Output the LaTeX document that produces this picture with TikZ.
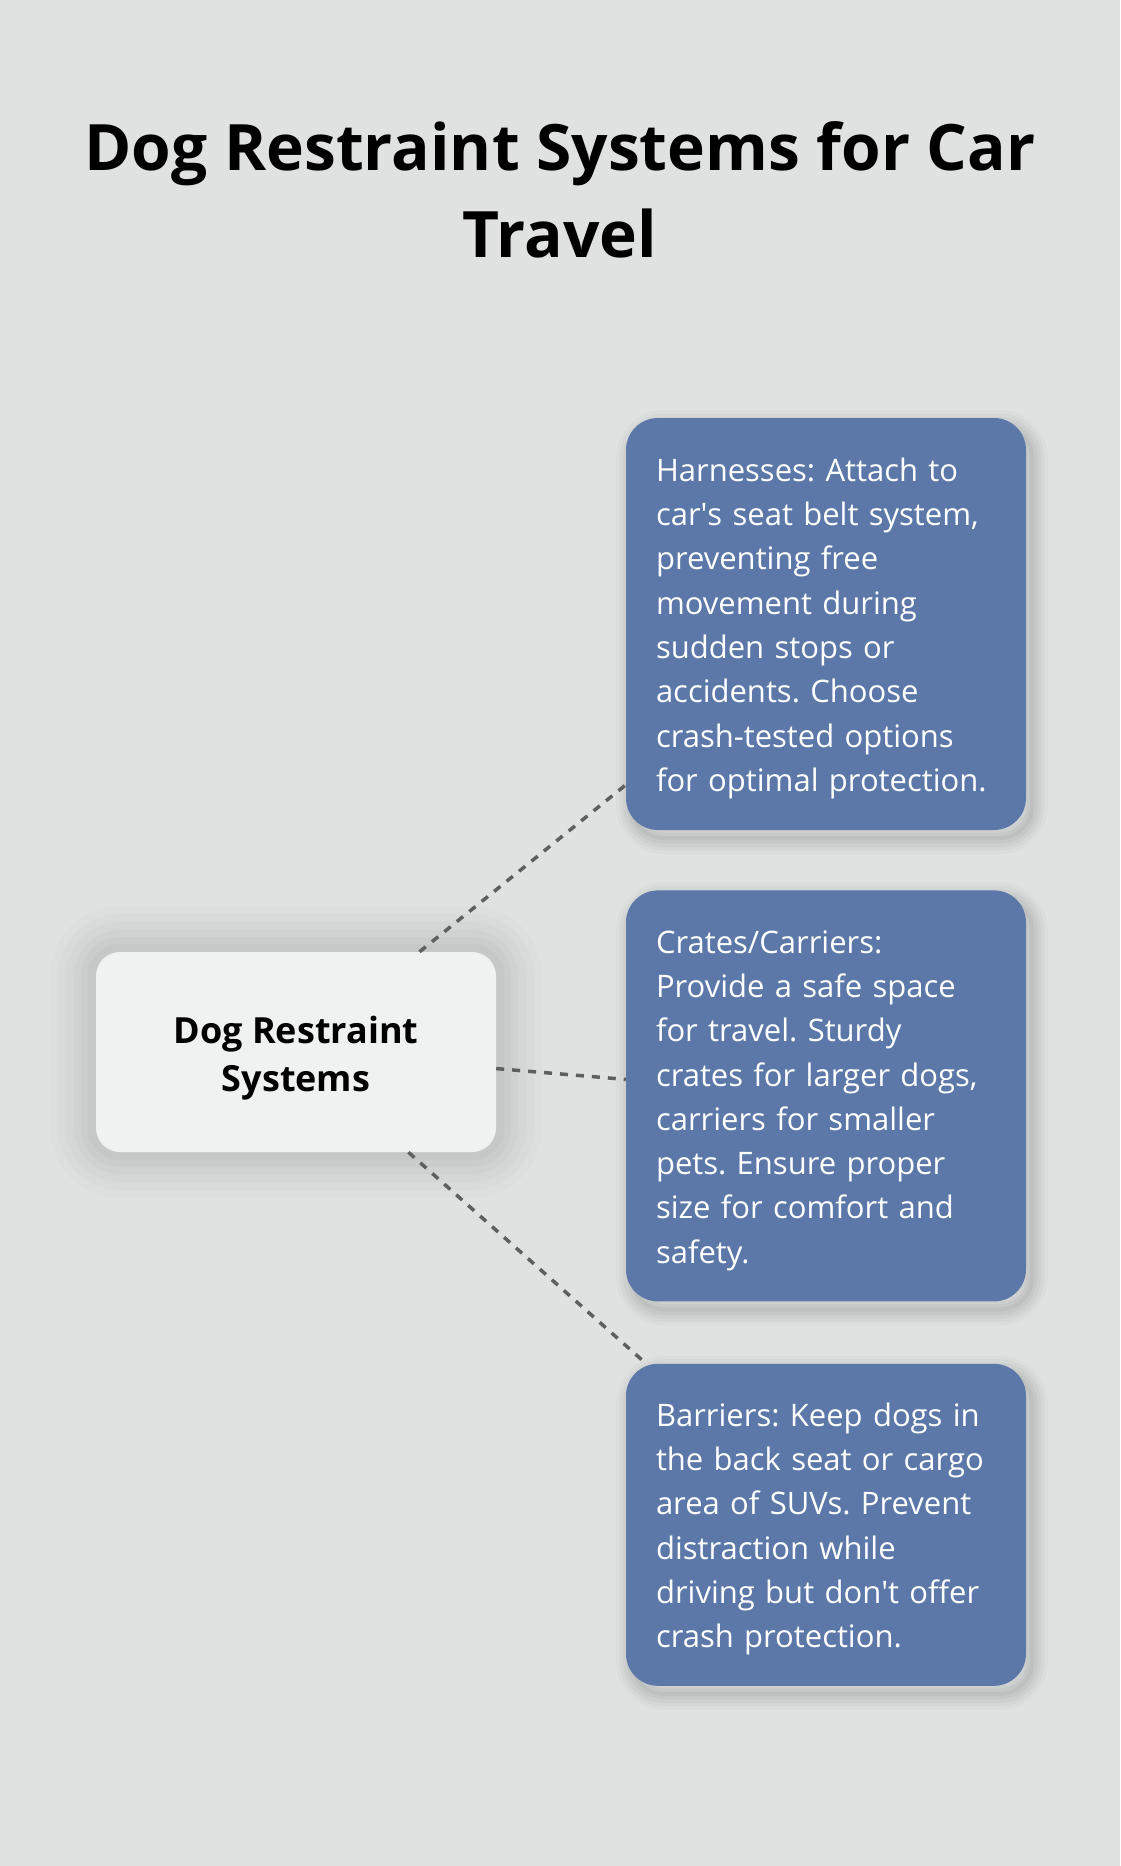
\documentclass[tikz,border=0pt]{standalone}
\usepackage{fontspec}
\setmainfont{Open Sans}
\usepackage{tikz}
\usetikzlibrary{positioning}
\frenchspacing

\definecolor{bgcol}{HTML}{DFE2E1}
\definecolor{topiccol}{HTML}{5B78A8}
\definecolor{hubcol}{HTML}{F0F2F1}
\definecolor{linkcol}{HTML}{5F5F5F}

\tikzset{
    ring/.style args={#1/#2}{preaction={draw=black, line width=#1, draw opacity=#2}},
    dropring/.style args={#1/#2}{preaction={transform canvas={shift={(6pt,-8pt)}},
        draw=black, line width=#1, draw opacity=#2}},
    hubbox/.style={rounded corners=24pt, fill=hubcol, minimum width=400pt,
        minimum height=200pt, align=center, text=black,
        font=\fontsize{36pt}{48pt}\selectfont\bfseries,
        ring=92pt/0.012, ring=76pt/0.014, ring=60pt/0.016, ring=44pt/0.018,
        ring=30pt/0.02, ring=16pt/0.022},
    topicbox/.style={rounded corners=32pt, fill=topiccol, text=white,
        text width=340pt, inner xsep=30pt, align=left,
        font=\fontsize{31pt}{44.3pt}\selectfont,
        dropring=32pt/0.02, dropring=25pt/0.025, dropring=18pt/0.03,
        dropring=11pt/0.035, dropring=4pt/0.04},
    link/.style={linkcol, line width=3.5pt, dash pattern=on 8pt off 8pt}
}

\begin{document}
\begin{tikzpicture}[x=1pt, y=-1pt]
    % Background
    \fill[bgcol] (0,0) rectangle (1120,1866);
    \useasboundingbox (0,0) rectangle (1120,1866);

    % Title
    \node[font=\fontsize{64pt}{87pt}\selectfont\bfseries, align=center] (title)
        at (560,190) {Dog Restraint Systems for Car\\Travel};

    % Draw the boxes
    \node[topicbox, minimum height=412pt] (harness) at (826,624)
        {\rule{0pt}{32pt}Harnesses: Attach to\\car\textquotesingle s seat belt system,\\preventing free\\movement during\\sudden stops or\\accidents. Choose\\crash-tested options\\for optimal protection.};
    \node[topicbox, minimum height=411pt, below=60pt of harness] (crates)
        {\rule{0pt}{32pt}Crates/Carriers:\\Provide a safe space\\for travel. Sturdy\\crates for larger dogs,\\carriers for smaller\\pets. Ensure proper\\size for comfort and\\safety.};
    \node[topicbox, minimum height=322pt, below=62pt of crates] (barriers)
        {\rule{0pt}{32pt}Barriers: Keep dogs in\\the back seat or cargo\\area of SUVs. Prevent\\distraction while\\driving but don\textquotesingle t offer\\crash protection.};
    \node[hubbox] (hub) at (296,1052) {\rule{0pt}{40pt}Dog Restraint\\Systems};

    % Draw the links
    \draw[link] (hub) -- (harness);
    \draw[link] (hub) -- (crates);
    \draw[link] (hub) -- (barriers);
\end{tikzpicture}
\end{document}
